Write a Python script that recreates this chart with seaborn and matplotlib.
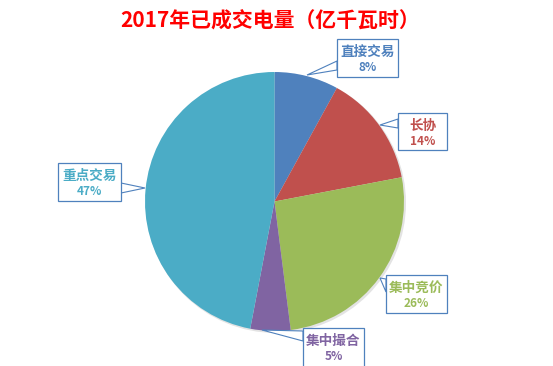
import matplotlib
matplotlib.use("Agg")
import matplotlib.pyplot as plt
import seaborn as sns
import numpy as np
from matplotlib.patches import Polygon, Rectangle, Circle

# ---- data ----
categories = ["直接交易", "长协", "集中竞价", "集中撮合", "重点交易"]
shares = [8, 14, 26, 5, 47]
pct_labels = ["8%", "14%", "26%", "5%", "47%"]
title_text = "2017年已成交电量（亿千瓦时）"

# ---- style ----
colors = ["#4F81BD", "#C0504D", "#9BBB59", "#8064A2", "#4BACC6"]
text_colors = ["#4F81BD", "#C0504D", "#9BBB59", "#8064A2", "#4BACC6"]
box_edge = "#4F81BD"

sns.set_theme(style="white")
plt.rcParams['font.family'] = ['Noto Sans CJK SC', 'DejaVu Sans']

W, H = 553, 366
fig = plt.figure(figsize=(W / 100, H / 100), dpi=100)
ax = fig.add_axes([0, 0, 1, 1])


def Y(py):
    return H - py

cx, cy, r = 274.5, 201.5, 129.5

# faint shadow
ax.add_patch(Circle((cx + 1.5, Y(cy) - 1.5), r + 0.5, color="#e3e3e3", zorder=0.5, lw=0))

ax.pie(shares, colors=colors, startangle=90, counterclock=False,
       center=(cx, Y(cy)), radius=r, frame=True,
       wedgeprops=dict(linewidth=0, edgecolor="none"))
ax.set_xlim(0, W)
ax.set_ylim(0, H)
ax.axis("off")

# callout layout in pixel coordinates
boxes = [(337, 39, 398, 77), (398, 113, 447, 150), (386, 275, 447, 313),
         (303, 328, 364, 368), (58, 163, 121, 201)]
base_x = [337, 398, 386, 303, 121]
base_y = [(61, 70), (119, 128), (279, 292), (331, 341), (183, 193)]
tips = [(307, 75), (380, 125), (380, 278), (262, 330), (145, 188)]

for i in range(len(categories)):
    x0, y0, x1, y1 = boxes[i]
    bx = base_x[i]
    b0, b1 = base_y[i]
    tx, ty = tips[i]
    ax.add_patch(Polygon([(bx, Y(b0)), (tx, Y(ty)), (bx, Y(b1))], closed=True,
                         facecolor="white", edgecolor=box_edge, lw=0.8, zorder=2))
    ax.add_patch(Rectangle((x0, Y(y1)), x1 - x0, y1 - y0, facecolor="white",
                           edgecolor=box_edge, lw=0.9, zorder=3))
    xm = (x0 + x1) / 2
    ax.text(xm, Y(y0 + 12.5), categories[i], color=text_colors[i], fontsize=9.8,
            fontweight="bold", ha="center", va="center", zorder=4)
    ax.text(xm, Y(y0 + 28.5), pct_labels[i], color=text_colors[i], fontsize=8.5,
            fontweight="bold", ha="center", va="center", zorder=4)

ax.text(270, Y(21), title_text, color="#FF0000", fontsize=15, fontweight="bold",
        ha="center", va="center")

fig.savefig("out.png", dpi=100)
